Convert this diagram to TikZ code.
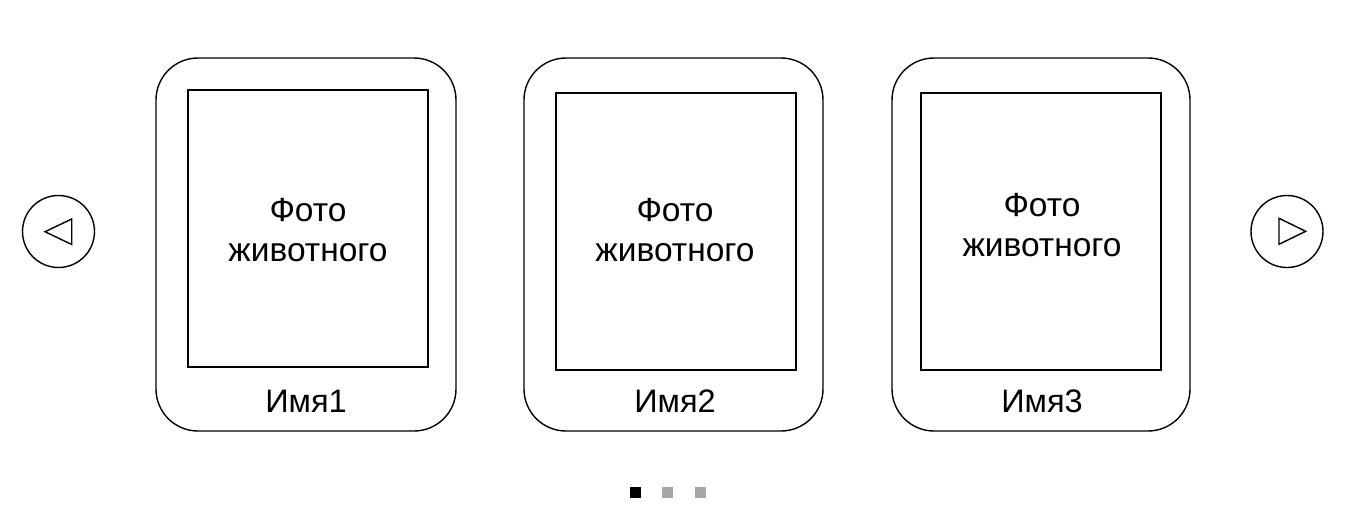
\documentclass[tikz,border=0pt]{standalone}
\usepackage{fontspec}
\setmainfont{Liberation Sans}
\begin{document}
\begin{tikzpicture}[x=1pt,y=-1pt,
  card/.style={draw,line width=1.4pt,rounded corners=42pt,inner sep=0pt},
  photo/.style={draw,line width=1.4pt,inner sep=0pt},
  lbl/.style={font=\fontsize{33.5}{40}\selectfont,align=center,inner sep=0pt},
  namelbl/.style={font=\fontsize{32.5}{40}\selectfont,inner sep=0pt},
  navbtn/.style={draw,line width=1.4pt,circle,minimum size=72pt,inner sep=0pt},
  dotbox/.style={minimum size=11pt,inner sep=0pt}]
\useasboundingbox (0,0) rectangle (1362,530);
% cards
\node[card,minimum width=300pt,minimum height=373pt] (c1) at (306,244.5) {};
\node[card,minimum width=299pt,minimum height=373pt] (c2) at (673.5,244.5) {};
\node[card,minimum width=298pt,minimum height=373pt] (c3) at (1041,244.5) {};
\node[photo,minimum width=240pt,minimum height=277pt] (p1) at (308,228.5) {};
\node[photo,minimum width=240pt,minimum height=277pt] (p2) at (676,231.5) {};
\node[photo,minimum width=240pt,minimum height=277pt] (p3) at (1041,231.5) {};
\node[lbl] (t1) at (308,230) {Фото\\животного};
\node[lbl] (t2) at (675,230) {Фото\\животного};
\node[lbl] (t3) at (1042,225) {Фото\\животного};
\node[namelbl] (n1) at (306,401) {Имя1};
\node[namelbl] (n2) at (675,401) {Имя2};
\node[namelbl] (n3) at (1042,401) {Имя3};
% navigation
\node[navbtn] (prev) at (58.5,231.5) {};
\node[navbtn] (next) at (1287,231.5) {};
\draw[line width=1.4pt,line join=miter] (45,231.7) -- (71.7,219) -- (71.7,244.5) -- cycle;
\draw[line width=1.4pt,line join=miter] (1305.7,231.3) -- (1279,218.3) -- (1279,244.3) -- cycle;
% dots
\node[dotbox,fill=black] (d1) at (635.5,492) {};
\node[dotbox,fill=black!35] (d2) at (667.5,492) {};
\node[dotbox,fill=black!35] (d3) at (700.5,492) {};
\end{tikzpicture}
\end{document}
